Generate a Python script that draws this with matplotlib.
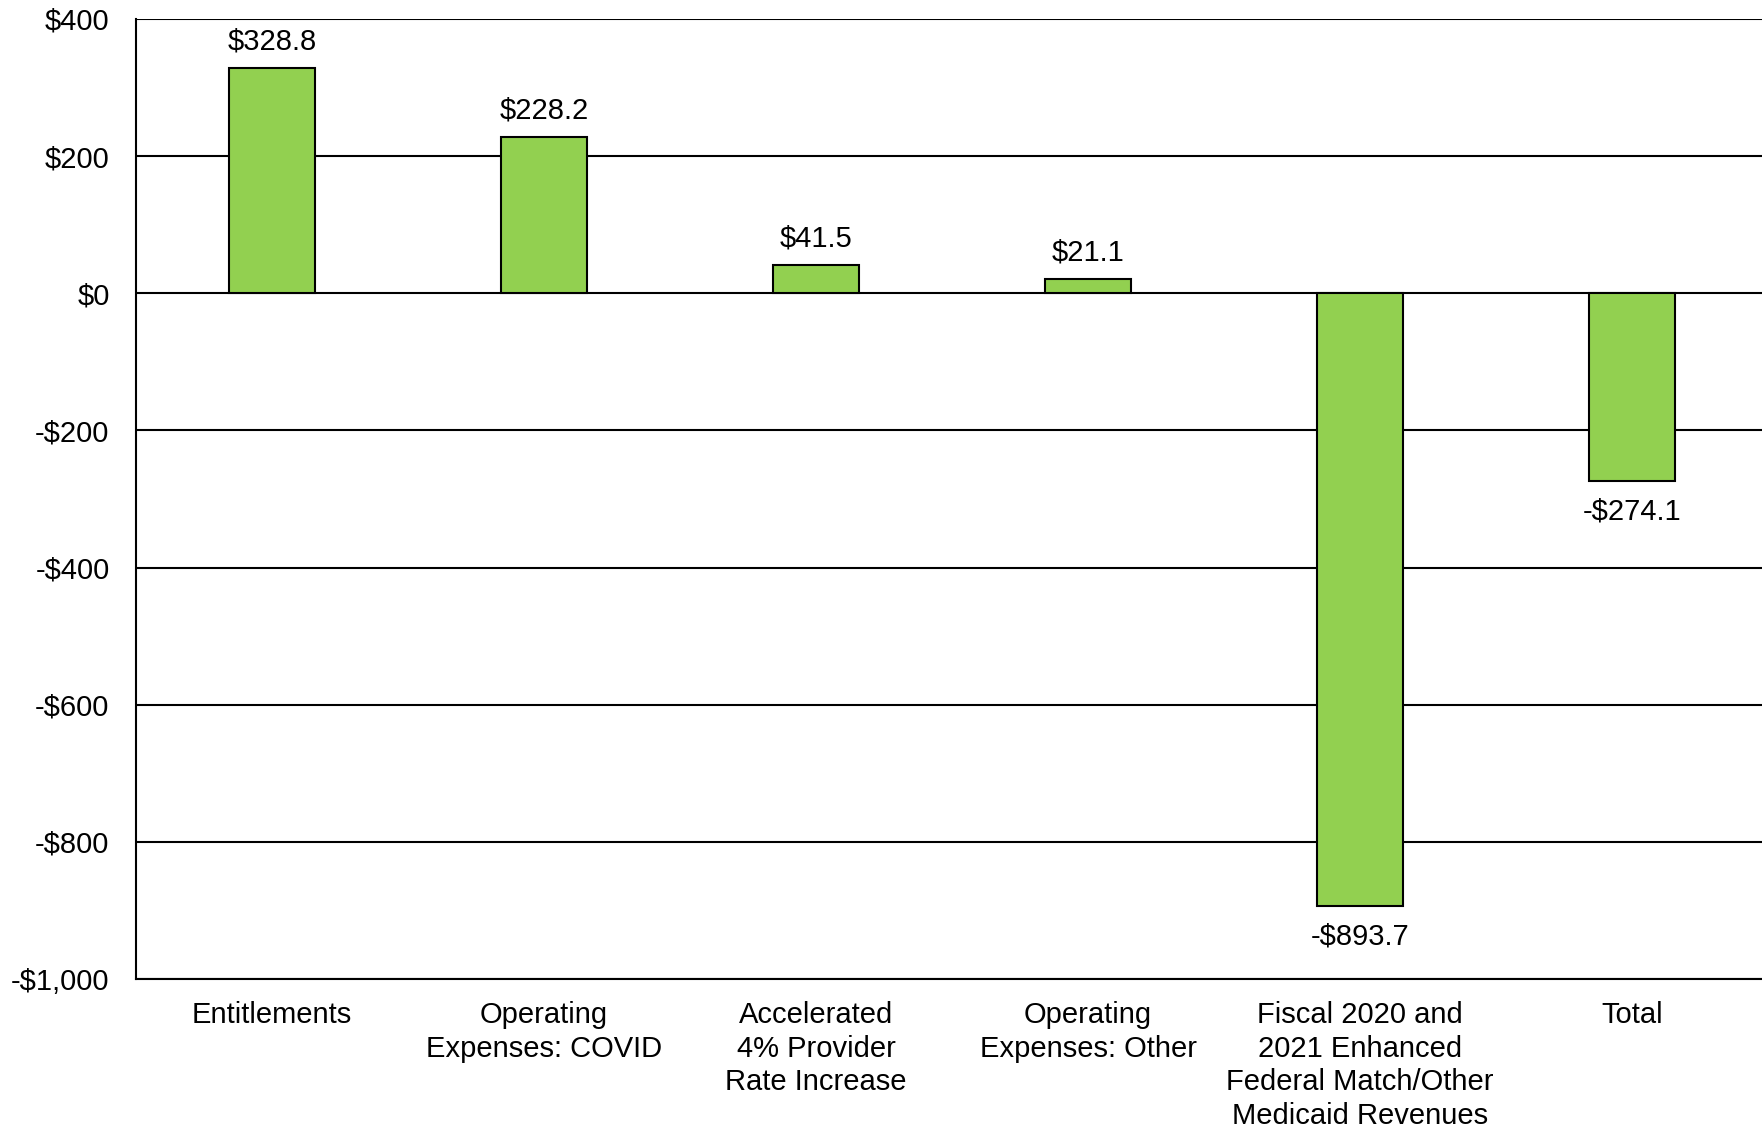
import matplotlib.pyplot as plt
import numpy as np

# -------------------------- 数据 --------------------------
categories = [
    'Entitlements',
    'Operating\nExpenses: COVID',
    'Accelerated\n4% Provider\nRate Increase',
    'Operating\nExpenses: Other',
    'Fiscal 2020 and\n2021 Enhanced\nFederal Match/Other\nMedicaid Revenues',
    'Total',
]
values = [328.8, 228.2, 41.5, 21.1, -893.7, -274.1]
y_ticks = [-1000, -800, -600, -400, -200, 0, 200, 400]
y_tick_labels = ['-$1,000', '-$800', '-$600', '-$400', '-$200', '$0', '$200', '$400']

# -------------------------- 样式 --------------------------
plt.rcParams['font.family'] = ['Liberation Sans', 'DejaVu Sans']
bar_color = '#92D050'
fs = 21

fig = plt.figure(figsize=(17.62, 11.28), dpi=100)
ax = fig.add_axes([136 / 1762, 149 / 1128, 1632 / 1762, 960 / 1128])

x = np.arange(len(categories))
bars = ax.bar(x, values, width=0.316, color=bar_color, edgecolor='black',
              linewidth=1.5, zorder=3)

# 数值标签
for xi, v in zip(x, values):
    label = f'${v:,.1f}' if v >= 0 else f'-${abs(v):,.1f}'
    ax.annotate(label, (xi, v), xytext=(0, 9 if v >= 0 else -12),
                textcoords='offset points', ha='center',
                va='bottom' if v >= 0 else 'top', fontsize=fs)

# 坐标轴
ax.set_xlim(-0.5, len(categories) - 0.5)
ax.set_ylim(-1000, 400)
ax.set_yticks(y_ticks)
ax.set_yticklabels(y_tick_labels, fontsize=fs)
ax.set_xticks(x)
ax.set_xticklabels(categories, fontsize=fs, linespacing=1.25)
ax.tick_params(axis='y', length=0, pad=19)
ax.tick_params(axis='x', length=0, pad=16)

ax.grid(axis='y', color='black', linewidth=1.5, zorder=1)
for s in ['top', 'right']:
    ax.spines[s].set_visible(False)
ax.spines['left'].set_linewidth(1.5)
ax.spines['bottom'].set_linewidth(1.5)

plt.savefig('out.png', dpi=100, facecolor='white')
